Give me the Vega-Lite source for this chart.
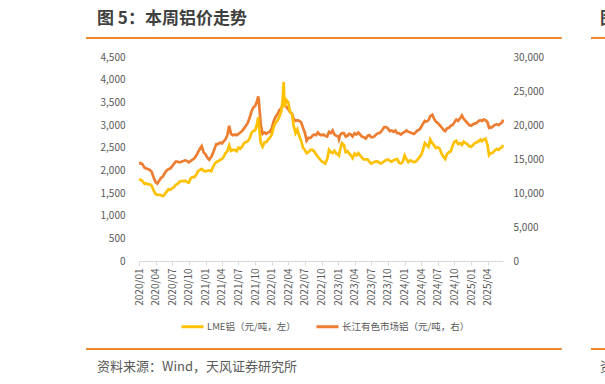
{
"$schema": "https://vega.github.io/schema/vega-lite/v6.json",
"width": 364, "height": 204,
"autosize": {"type": "none"},
"padding": {"left": 139, "top": 57, "right": 102, "bottom": 123},
"data": {"values": [
{"d":"2020-01-01","lme":1800,"cj":14350},{"d":"2020-01-11","lme":1790,"cj":14400},{"d":"2020-01-21","lme":1760,"cj":14200},
{"d":"2020-02-01","lme":1700,"cj":13700},{"d":"2020-02-11","lme":1710,"cj":13600},{"d":"2020-02-21","lme":1690,"cj":13500},
{"d":"2020-03-01","lme":1690,"cj":13400},{"d":"2020-03-11","lme":1660,"cj":13100},{"d":"2020-03-21","lme":1560,"cj":12300},
{"d":"2020-04-01","lme":1480,"cj":11600},{"d":"2020-04-11","lme":1460,"cj":11400},{"d":"2020-04-21","lme":1460,"cj":11800},
{"d":"2020-05-01","lme":1450,"cj":12200},{"d":"2020-05-11","lme":1430,"cj":12400},{"d":"2020-05-21","lme":1470,"cj":12900},
{"d":"2020-06-01","lme":1530,"cj":13300},{"d":"2020-06-11","lme":1580,"cj":13500},{"d":"2020-06-21","lme":1570,"cj":13600},
{"d":"2020-07-01","lme":1600,"cj":13900},{"d":"2020-07-11","lme":1630,"cj":14300},{"d":"2020-07-21","lme":1680,"cj":14600},
{"d":"2020-08-01","lme":1700,"cj":14600},{"d":"2020-08-11","lme":1750,"cj":14500},{"d":"2020-08-21","lme":1760,"cj":14600},
{"d":"2020-09-01","lme":1760,"cj":14700},{"d":"2020-09-11","lme":1770,"cj":14800},{"d":"2020-09-21","lme":1740,"cj":14700},
{"d":"2020-10-01","lme":1730,"cj":14500},{"d":"2020-10-11","lme":1820,"cj":14700},{"d":"2020-10-21","lme":1850,"cj":14900},
{"d":"2020-11-01","lme":1850,"cj":15100},{"d":"2020-11-11","lme":1900,"cj":15500},{"d":"2020-11-21","lme":1980,"cj":16000},
{"d":"2020-12-01","lme":2010,"cj":16500},{"d":"2020-12-11","lme":2030,"cj":16900},{"d":"2020-12-21","lme":1990,"cj":16000},
{"d":"2021-01-01","lme":1980,"cj":15700},{"d":"2021-01-11","lme":1990,"cj":15200},{"d":"2021-01-21","lme":2000,"cj":14900},
{"d":"2021-02-01","lme":1980,"cj":15300},{"d":"2021-02-11","lme":2070,"cj":15900},{"d":"2021-02-21","lme":2150,"cj":16600},
{"d":"2021-03-01","lme":2180,"cj":17200},{"d":"2021-03-11","lme":2200,"cj":17200},{"d":"2021-03-21","lme":2230,"cj":17400},
{"d":"2021-04-01","lme":2250,"cj":17300},{"d":"2021-04-11","lme":2300,"cj":17600},{"d":"2021-04-21","lme":2380,"cj":17900},
{"d":"2021-05-01","lme":2420,"cj":18500},{"d":"2021-05-11","lme":2550,"cj":19900},{"d":"2021-05-21","lme":2430,"cj":18700},
{"d":"2021-06-01","lme":2450,"cj":18500},{"d":"2021-06-11","lme":2450,"cj":18600},{"d":"2021-06-21","lme":2420,"cj":18500},
{"d":"2021-07-01","lme":2500,"cj":18700},{"d":"2021-07-11","lme":2480,"cj":18900},{"d":"2021-07-21","lme":2520,"cj":19100},
{"d":"2021-08-01","lme":2600,"cj":19500},{"d":"2021-08-11","lme":2620,"cj":19900},{"d":"2021-08-21","lme":2640,"cj":20300},
{"d":"2021-09-01","lme":2710,"cj":21100},{"d":"2021-09-11","lme":2830,"cj":22000},{"d":"2021-09-21","lme":2870,"cj":22600},
{"d":"2021-10-01","lme":2880,"cj":22800},{"d":"2021-10-11","lme":3020,"cj":23500},{"d":"2021-10-18","lme":3170,"cj":24200},{"d":"2021-10-21","lme":3000,"cj":23600},
{"d":"2021-11-01","lme":2600,"cj":20000},{"d":"2021-11-11","lme":2520,"cj":18700},{"d":"2021-11-21","lme":2620,"cj":18900},
{"d":"2021-12-01","lme":2620,"cj":18700},{"d":"2021-12-11","lme":2680,"cj":18900},{"d":"2021-12-21","lme":2720,"cj":19000},
{"d":"2022-01-01","lme":2800,"cj":19600},{"d":"2022-01-11","lme":2960,"cj":20600},{"d":"2022-01-21","lme":3050,"cj":21200},
{"d":"2022-02-01","lme":3100,"cj":21600},{"d":"2022-02-11","lme":3180,"cj":22200},{"d":"2022-02-21","lme":3300,"cj":22400},
{"d":"2022-03-01","lme":3550,"cj":22800},{"d":"2022-03-07","lme":3950,"cj":23500},{"d":"2022-03-11","lme":3400,"cj":22900},{"d":"2022-03-21","lme":3550,"cj":22700},
{"d":"2022-04-01","lme":3500,"cj":22300},{"d":"2022-04-11","lme":3280,"cj":21900},{"d":"2022-04-21","lme":3250,"cj":21700},
{"d":"2022-05-01","lme":2980,"cj":20900},{"d":"2022-05-11","lme":2820,"cj":20600},{"d":"2022-05-21","lme":2900,"cj":20700},
{"d":"2022-06-01","lme":2750,"cj":20600},{"d":"2022-06-11","lme":2650,"cj":20400},{"d":"2022-06-21","lme":2500,"cj":19600},
{"d":"2022-07-01","lme":2450,"cj":18900},{"d":"2022-07-11","lme":2380,"cj":17700},{"d":"2022-07-21","lme":2400,"cj":18100},
{"d":"2022-08-01","lme":2450,"cj":18100},{"d":"2022-08-11","lme":2450,"cj":18400},{"d":"2022-08-21","lme":2420,"cj":18600},
{"d":"2022-09-01","lme":2350,"cj":18500},{"d":"2022-09-11","lme":2300,"cj":18900},{"d":"2022-09-21","lme":2250,"cj":18600},
{"d":"2022-10-01","lme":2200,"cj":18500},{"d":"2022-10-11","lme":2180,"cj":18600},{"d":"2022-10-21","lme":2150,"cj":18400},
{"d":"2022-11-01","lme":2250,"cj":18300},{"d":"2022-11-11","lme":2450,"cj":19000},{"d":"2022-11-21","lme":2400,"cj":18800},
{"d":"2022-12-01","lme":2380,"cj":19200},{"d":"2022-12-11","lme":2430,"cj":18600},{"d":"2022-12-21","lme":2370,"cj":18400},
{"d":"2023-01-01","lme":2350,"cj":18300},{"d":"2023-01-05","lme":2330,"cj":17900},{"d":"2023-01-11","lme":2450,"cj":18500},{"d":"2023-01-21","lme":2600,"cj":18800},
{"d":"2023-02-01","lme":2560,"cj":18800},{"d":"2023-02-11","lme":2400,"cj":18300},{"d":"2023-02-21","lme":2420,"cj":18400},
{"d":"2023-03-01","lme":2380,"cj":18700},{"d":"2023-03-11","lme":2330,"cj":18600},{"d":"2023-03-21","lme":2270,"cj":18300},
{"d":"2023-04-01","lme":2370,"cj":18800},{"d":"2023-04-11","lme":2330,"cj":18600},{"d":"2023-04-21","lme":2380,"cj":18900},
{"d":"2023-05-01","lme":2330,"cj":18600},{"d":"2023-05-11","lme":2280,"cj":18300},{"d":"2023-05-21","lme":2240,"cj":18200},
{"d":"2023-06-01","lme":2240,"cj":18000},{"d":"2023-06-11","lme":2240,"cj":18400},{"d":"2023-06-21","lme":2190,"cj":18500},
{"d":"2023-07-01","lme":2150,"cj":18200},{"d":"2023-07-11","lme":2170,"cj":18200},{"d":"2023-07-21","lme":2190,"cj":18400},
{"d":"2023-08-01","lme":2200,"cj":18700},{"d":"2023-08-11","lme":2180,"cj":18800},{"d":"2023-08-21","lme":2150,"cj":18900},
{"d":"2023-09-01","lme":2170,"cj":19300},{"d":"2023-09-11","lme":2200,"cj":19700},{"d":"2023-09-21","lme":2230,"cj":19700},
{"d":"2023-10-01","lme":2240,"cj":19500},{"d":"2023-10-11","lme":2210,"cj":19100},{"d":"2023-10-21","lme":2190,"cj":19200},
{"d":"2023-11-01","lme":2220,"cj":19000},{"d":"2023-11-11","lme":2240,"cj":19200},{"d":"2023-11-21","lme":2250,"cj":18800},
{"d":"2023-12-01","lme":2170,"cj":18800},{"d":"2023-12-11","lme":2150,"cj":18600},{"d":"2023-12-21","lme":2180,"cj":18800},
{"d":"2024-01-01","lme":2330,"cj":19000},{"d":"2024-01-11","lme":2250,"cj":19200},{"d":"2024-01-21","lme":2180,"cj":19000},
{"d":"2024-02-01","lme":2220,"cj":18900},{"d":"2024-02-11","lme":2200,"cj":18800},{"d":"2024-02-21","lme":2180,"cj":18700},
{"d":"2024-03-01","lme":2190,"cj":18900},{"d":"2024-03-11","lme":2230,"cj":19200},{"d":"2024-03-21","lme":2280,"cj":19300},
{"d":"2024-04-01","lme":2340,"cj":19700},{"d":"2024-04-11","lme":2450,"cj":20200},{"d":"2024-04-21","lme":2600,"cj":20600},
{"d":"2024-05-01","lme":2560,"cj":20500},{"d":"2024-05-11","lme":2520,"cj":20700},{"d":"2024-05-21","lme":2680,"cj":21300},
{"d":"2024-06-01","lme":2600,"cj":21500},{"d":"2024-06-11","lme":2550,"cj":20900},{"d":"2024-06-21","lme":2490,"cj":20500},
{"d":"2024-07-01","lme":2510,"cj":20300},{"d":"2024-07-11","lme":2480,"cj":20000},{"d":"2024-07-21","lme":2380,"cj":19700},
{"d":"2024-08-01","lme":2300,"cj":19300},{"d":"2024-08-11","lme":2250,"cj":19100},{"d":"2024-08-21","lme":2360,"cj":19500},
{"d":"2024-09-01","lme":2400,"cj":19600},{"d":"2024-09-11","lme":2420,"cj":19900},{"d":"2024-09-21","lme":2550,"cj":20000},
{"d":"2024-10-01","lme":2630,"cj":20400},{"d":"2024-10-11","lme":2650,"cj":20800},{"d":"2024-10-21","lme":2580,"cj":20600},
{"d":"2024-11-01","lme":2600,"cj":21000},{"d":"2024-11-11","lme":2560,"cj":21400},{"d":"2024-11-21","lme":2630,"cj":20900},
{"d":"2024-12-01","lme":2600,"cj":20600},{"d":"2024-12-11","lme":2580,"cj":20300},{"d":"2024-12-21","lme":2530,"cj":20000},
{"d":"2025-01-01","lme":2520,"cj":19900},{"d":"2025-01-11","lme":2560,"cj":20100},{"d":"2025-01-21","lme":2600,"cj":20200},
{"d":"2025-02-01","lme":2620,"cj":20300},{"d":"2025-02-11","lme":2640,"cj":20600},{"d":"2025-02-21","lme":2680,"cj":20700},
{"d":"2025-03-01","lme":2640,"cj":20600},{"d":"2025-03-11","lme":2680,"cj":20800},{"d":"2025-03-21","lme":2700,"cj":20700},
{"d":"2025-04-01","lme":2560,"cj":20400},{"d":"2025-04-09","lme":2340,"cj":19600},{"d":"2025-04-15","lme":2370,"cj":19700},{"d":"2025-04-21","lme":2380,"cj":19600},
{"d":"2025-05-01","lme":2390,"cj":19800},{"d":"2025-05-11","lme":2440,"cj":20000},{"d":"2025-05-21","lme":2470,"cj":20100},
{"d":"2025-06-01","lme":2450,"cj":20000},{"d":"2025-06-11","lme":2490,"cj":20200},{"d":"2025-06-21","lme":2520,"cj":20400},{"d":"2025-06-25","lme":2560,"cj":20800}
]},
"layer": [
{"mark": {"type": "line", "strokeWidth": 2.7, "interpolate": "linear"},
 "encoding": {
  "x": {"field": "d", "type": "temporal",
        "scale": {"domain": [{"year": 2020, "month": 1, "date": 1}, {"year": 2025, "month": 6, "date": 25}], "nice": false},
        "axis": {"format": "%Y/%m", "tickCount": {"interval": "month", "step": 3}, "labelAngle": 270, "domain": true, "domainColor": "#d9d9d9", "ticks": true, "tickColor": "#d9d9d9", "tickSize": 4, "labelPadding": 3, "labelFlush": false, "labelOverlap": false, "title": null}},
  "y": {"field": "cj", "type": "quantitative", "scale": {"domain": [0, 30000], "nice": false},
        "axis": {"orient": "right", "values": [0, 5000, 10000, 15000, 20000, 25000, 30000], "format": ",d", "title": null, "labelPadding": 10, "tickSize": 0}},
  "color": {"datum": "长江有色市场铝（元/吨，右）"}}},
{"mark": {"type": "line", "strokeWidth": 2.7, "interpolate": "linear"},
 "encoding": {
  "x": {"field": "d", "type": "temporal",
        "scale": {"domain": [{"year": 2020, "month": 1, "date": 1}, {"year": 2025, "month": 6, "date": 25}], "nice": false},
        "axis": {"format": "%Y/%m", "tickCount": {"interval": "month", "step": 3}, "labelAngle": 270, "domain": true, "domainColor": "#d9d9d9", "ticks": true, "tickColor": "#d9d9d9", "tickSize": 4, "labelPadding": 3, "labelFlush": false, "labelOverlap": false, "title": null}},
  "y": {"field": "lme", "type": "quantitative", "scale": {"domain": [0, 4500], "nice": false},
        "axis": {"orient": "left", "values": [0, 500, 1000, 1500, 2000, 2500, 3000, 3500, 4000, 4500], "format": ",d", "title": null, "labelPadding": 14, "tickSize": 0}},
  "color": {"datum": "LME铝（元/吨，左）", "type": "nominal",
            "scale": {"domain": ["LME铝（元/吨，左）", "长江有色市场铝（元/吨，右）"], "range": ["#FFC000", "#ED7D31"]},
            "legend": {"orient": "none", "legendX": 41, "legendY": 257, "direction": "horizontal", "title": null, "symbolType": "stroke", "symbolStrokeWidth": 3, "symbolSize": 484, "labelFontSize": 9.5, "labelColor": "#595959", "labelOffset": 2, "columnPadding": 14}}}},
{"data": {"values": [{}]},
 "mark": {"type": "rule", "color": "#F0862A", "strokeWidth": 2},
 "encoding": {
  "x": {"datum": {"year": 2019, "month": 3, "date": 16}, "type": "temporal"},
  "x2": {"datum": {"year": 2026, "month": 5, "date": 14}},
  "y": {"datum": 4920, "type": "quantitative", "scale": {"domain": [0, 4500], "nice": false}, "axis": null}}},
{"data": {"values": [{}]},
 "mark": {"type": "rule", "color": "#F0862A", "strokeWidth": 2},
 "encoding": {
  "x": {"datum": {"year": 2019, "month": 3, "date": 16}, "type": "temporal"},
  "x2": {"datum": {"year": 2026, "month": 5, "date": 14}},
  "y": {"datum": -1941, "type": "quantitative", "scale": {"domain": [0, 4500], "nice": false}, "axis": null}}},
{"data": {"values": [{}]},
 "mark": {"type": "rule", "color": "#F0862A", "strokeWidth": 2},
 "encoding": {
  "x": {"datum": {"year": 2026, "month": 10, "date": 22}, "type": "temporal"},
  "x2": {"datum": {"year": 2027, "month": 3, "date": 1}},
  "y": {"datum": 4920, "type": "quantitative", "scale": {"domain": [0, 4500], "nice": false}, "axis": null}}},
{"data": {"values": [{}]},
 "mark": {"type": "rule", "color": "#F0862A", "strokeWidth": 2},
 "encoding": {
  "x": {"datum": {"year": 2026, "month": 10, "date": 22}, "type": "temporal"},
  "x2": {"datum": {"year": 2027, "month": 3, "date": 1}},
  "y": {"datum": -1941, "type": "quantitative", "scale": {"domain": [0, 4500], "nice": false}, "axis": null}}},
{"data": {"values": [{"t": "图 5：本周铝价走势"}]},
 "mark": {"type": "text", "align": "left", "baseline": "middle", "fontSize": 17, "fontWeight": "bold", "color": "#404040"},
 "encoding": {
  "text": {"field": "t"},
  "x": {"datum": {"year": 2019, "month": 5, "date": 15}, "type": "temporal"},
  "y": {"datum": 5340, "type": "quantitative", "scale": {"domain": [0, 4500], "nice": false}, "axis": null}}},
{"data": {"values": [{"t": "资料来源：Wind，天风证券研究所"}]},
 "mark": {"type": "text", "align": "left", "baseline": "middle", "fontSize": 13, "color": "#595959"},
 "encoding": {
  "text": {"field": "t"},
  "x": {"datum": {"year": 2019, "month": 5, "date": 15}, "type": "temporal"},
  "y": {"datum": -2338, "type": "quantitative", "scale": {"domain": [0, 4500], "nice": false}, "axis": null}}},
{"data": {"values": [{"t": "图"}]},
 "mark": {"type": "text", "align": "left", "baseline": "middle", "fontSize": 17, "fontWeight": "bold", "color": "#404040"},
 "encoding": {
  "text": {"field": "t"},
  "x": {"datum": {"year": 2026, "month": 12, "date": 10}, "type": "temporal"},
  "y": {"datum": 5340, "type": "quantitative", "scale": {"domain": [0, 4500], "nice": false}, "axis": null}}},
{"data": {"values": [{"t": "资"}]},
 "mark": {"type": "text", "align": "left", "baseline": "middle", "fontSize": 13, "color": "#595959"},
 "encoding": {
  "text": {"field": "t"},
  "x": {"datum": {"year": 2026, "month": 12, "date": 10}, "type": "temporal"},
  "y": {"datum": -2338, "type": "quantitative", "scale": {"domain": [0, 4500], "nice": false}, "axis": null}}}
],
"resolve": {"scale": {"y": "independent"}},
"config": {
  "view": {"stroke": null},
  "font": "Noto Sans CJK SC",
  "text": {"font": "Noto Sans CJK SC"},
  "axis": {"labelFont": "Noto Sans CJK SC", "labelFontSize": 10, "labelColor": "#595959", "grid": false, "domain": false, "ticks": false},
  "legend": {"labelFont": "Noto Sans CJK SC"}
}
}
